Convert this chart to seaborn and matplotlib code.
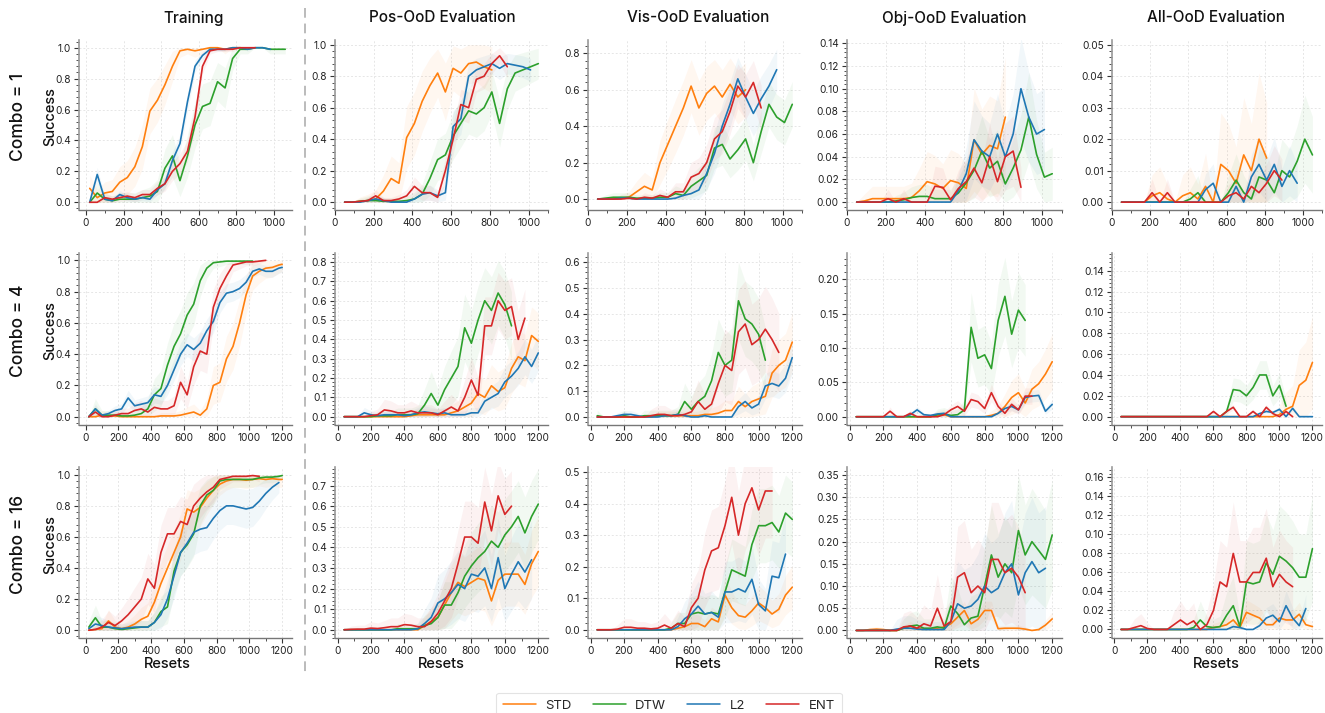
import numpy as np
import pandas as pd
import matplotlib
matplotlib.use("Agg")
import matplotlib.pyplot as plt
import seaborn as sns
from matplotlib.ticker import MultipleLocator, AutoMinorLocator, FormatStrFormatter
from matplotlib.lines import Line2D

N = None
METHODS = ["STD", "DTW", "L2", "ENT"]
COLORS = ["#ff7f0e", "#2ca02c", "#1f77b4", "#d62728"]
COLUMNS = ["Training", "Pos-OoD Evaluation", "Vis-OoD Evaluation", "Obj-OoD Evaluation", "All-OoD Evaluation"]
COMBOS = ["Combo = 1", "Combo = 4", "Combo = 16"]

# x grids (resets)
X_TRAIN_C1 = list(range(20, 1061, 40))
X_EVAL_C1 = list(range(50, 1051, 40))
X_TRAIN_C4 = list(range(20, 1181, 40)) + [1200]
X_EVAL_C4 = list(range(40, 1201, 40))
X_TRAIN_C16 = list(range(20, 1181, 40)) + [1200]
X_EVAL_C16 = list(range(40, 1201, 40))

# ---------------- Combo = 1 ----------------
TRAIN_C1_STD = [0.09,0.03,0.06,0.07,0.13,0.16,0.23,0.36,0.59,0.66,0.76,0.88,0.98,0.99,0.98,0.99,1.0,1.0,0.99,1.0,1.0,N,N,N,N,N,N]
TRAIN_C1_DTW = [0.0,0.06,0.02,0.01,0.02,0.02,0.02,0.03,0.04,0.07,0.22,0.30,0.14,0.30,0.50,0.62,0.64,0.78,0.74,0.93,0.99,0.99,1.0,1.0,0.99,0.99,0.99]
TRAIN_C1_L2 = [0.0,0.18,0.02,0.01,0.05,0.03,0.02,0.03,0.02,0.08,0.12,0.27,0.38,0.65,0.88,0.95,0.99,0.99,0.99,1.0,1.0,0.99,1.0,1.0,0.99,N,N]
TRAIN_C1_ENT = [0.0,0.0,0.03,0.02,0.03,0.04,0.03,0.05,0.05,0.09,0.12,0.20,0.25,0.33,0.55,0.88,0.98,0.99,0.99,0.99,1.0,1.0,1.0,N,N,N,N]

POS_C1_STD = [0.0,0.0,0.005,0.01,0.02,0.07,0.15,0.12,0.41,0.5,0.64,0.74,0.82,0.7,0.85,0.82,0.88,0.89,0.86,0.84,N,N,N,N,N,N]
POS_C1_DTW = [0.0,0.0,0.005,0.01,0.01,0.005,0.005,0.005,0.01,0.02,0.05,0.15,0.27,0.3,0.42,0.5,0.58,0.56,0.6,0.7,0.5,0.72,0.82,0.84,0.86,0.88]
POS_C1_L2 = [0.0,0.0,0.0,0.01,0.02,0.01,0.0,0.0,0.0,0.02,0.05,0.06,0.04,0.06,0.48,0.53,0.8,0.84,0.86,0.88,0.85,0.88,0.87,0.86,0.84,N]
POS_C1_ENT = [0.0,0.0,0.005,0.01,0.04,0.01,0.01,0.02,0.04,0.1,0.06,0.06,0.03,0.2,0.4,0.62,0.6,0.78,0.8,0.88,0.93,0.86,N,N,N,N]

VIS_C1_STD = [0.0,0.0,0.0,0.005,0.01,0.04,0.07,0.05,0.2,0.3,0.4,0.5,0.62,0.5,0.58,0.62,0.56,0.63,0.56,0.6,N,N,N,N,N,N]
VIS_C1_DTW = [0.0,0.005,0.01,0.01,0.01,0.005,0.005,0.005,0.01,0.01,0.03,0.02,0.07,0.1,0.13,0.28,0.3,0.22,0.27,0.33,0.2,0.37,0.52,0.45,0.42,0.52]
VIS_C1_L2 = [0.0,0.0,0.0,0.005,0.005,0.0,0.0,0.0,0.0,0.0,0.005,0.02,0.03,0.05,0.14,0.25,0.4,0.52,0.66,0.56,0.47,0.55,0.62,0.71,N,N]
VIS_C1_ENT = [0.0,0.0,0.0,0.0,0.005,0.0,0.01,0.005,0.02,0.01,0.04,0.04,0.12,0.14,0.2,0.33,0.37,0.48,0.62,0.56,0.64,0.5,N,N,N,N]

OBJ_C1_STD = [0.0,0.001,0.003,0.003,0.003,0.003,0.003,0.004,0.01,0.018,0.016,0.012,0.019,0.017,0.012,0.055,0.042,0.05,0.047,0.075,N,N,N,N,N,N]
OBJ_C1_DTW = [0.0,0.0,0.0,0.0,0.0,0.001,0.002,0.004,0.005,0.005,0.003,0.003,0.003,0.008,0.017,0.028,0.045,0.03,0.036,0.016,0.03,0.046,0.075,0.042,0.022,0.025]
OBJ_C1_L2 = [0.0,0.0,0.0,0.0,0.0,0.0,0.0,0.0,0.0,0.0,0.0,0.0,0.0,0.01,0.025,0.055,0.045,0.04,0.06,0.04,0.06,0.1,0.075,0.06,0.064,N]
OBJ_C1_ENT = [0.0,0.0,0.0,0.0,0.003,0.0,0.003,0.0,0.0,0.0,0.014,0.013,0.002,0.012,0.018,0.03,0.017,0.04,0.018,0.04,0.045,0.013,N,N,N,N]

ALL_C1_STD = [0.0,0.0,0.0,0.0,0.002,0.003,0.001,0.0,0.002,0.003,0.001,0.005,0.0,0.012,0.01,0.006,0.015,0.01,0.02,0.014,N,N,N,N,N,N]
ALL_C1_DTW = [0.0,0.0,0.0,0.0,0.0,0.0,0.0,0.0,0.0,0.001,0.003,0.0,0.0,0.0,0.003,0.007,0.003,0.001,0.008,0.007,0.003,0.01,0.008,0.013,0.02,0.015]
ALL_C1_L2 = [0.0,0.0,0.0,0.0,0.0,0.0,0.0,0.0,0.0,0.0,0.0,0.004,0.006,0.0,0.0,0.005,0.0,0.008,0.012,0.007,0.012,0.005,0.01,0.006,N,N]
ALL_C1_ENT = [0.0,0.0,0.0,0.0,0.003,0.0,0.003,0.0,0.0,0.0,0.0,0.0,0.0,0.0,0.002,0.003,0.001,0.005,0.003,0.006,0.01,0.007,N,N,N,N]

# ---------------- Combo = 4 ----------------
TRAIN_C4_STD = [0.0,0.0,0.01,0.005,0.005,0.0,0.0,0.0,0.0,0.0,0.0,0.005,0.005,0.005,0.01,0.02,0.03,0.01,0.05,0.2,0.22,0.37,0.45,0.6,0.78,0.9,0.93,0.95,0.955,0.97,0.975]
TRAIN_C4_DTW = [0.0,0.05,0.01,0.01,0.01,0.005,0.005,0.01,0.02,0.05,0.14,0.18,0.33,0.45,0.53,0.65,0.72,0.87,0.95,0.985,0.99,0.995,0.995,0.995,0.995,0.995,N,N,N,N,N]
TRAIN_C4_L2 = [0.0,0.05,0.01,0.02,0.04,0.05,0.12,0.07,0.08,0.09,0.14,0.13,0.2,0.3,0.4,0.46,0.43,0.47,0.55,0.61,0.73,0.79,0.8,0.82,0.86,0.93,0.945,0.93,0.93,0.95,0.955]
TRAIN_C4_ENT = [0.0,0.03,0.0,0.0,0.01,0.02,0.02,0.04,0.05,0.03,0.06,0.05,0.05,0.07,0.22,0.14,0.32,0.42,0.4,0.7,0.82,0.9,0.97,0.98,0.99,0.99,0.995,1.0,N,N,N]

POS_C4_STD = [0.0,0.0,0.0,0.0,0.0,0.0,0.0,0.0,0.0,0.0,0.005,0.01,0.01,0.01,0.01,0.01,0.02,0.03,0.05,0.07,0.12,0.1,0.16,0.13,0.15,0.25,0.31,0.29,0.42,0.39]
POS_C4_DTW = [0.0,0.0,0.0,0.0,0.0,0.005,0.005,0.005,0.01,0.01,0.01,0.015,0.06,0.12,0.06,0.14,0.2,0.26,0.46,0.38,0.5,0.6,0.55,0.64,0.58,0.47,N,N,N,N]
POS_C4_L2 = [0.0,0.0,0.0,0.02,0.01,0.005,0.01,0.01,0.01,0.005,0.01,0.02,0.025,0.02,0.015,0.02,0.01,0.01,0.01,0.02,0.02,0.08,0.1,0.12,0.18,0.21,0.25,0.31,0.26,0.33]
POS_C4_ENT = [0.0,0.0,0.0,0.0,0.005,0.01,0.035,0.03,0.02,0.02,0.03,0.02,0.02,0.02,0.01,0.03,0.05,0.03,0.1,0.19,0.11,0.47,0.47,0.6,0.55,0.57,0.4,0.51,N,N]

VIS_C4_STD = [0.0,0.0,0.0,0.0,0.0,0.0,0.0,0.0,0.0,0.005,0.005,0.005,0.005,0.005,0.005,0.005,0.01,0.01,0.015,0.025,0.025,0.06,0.04,0.06,0.07,0.08,0.17,0.2,0.22,0.29]
VIS_C4_DTW = [0.005,0.0,0.0,0.0,0.005,0.0,0.0,0.005,0.005,0.005,0.005,0.005,0.01,0.06,0.03,0.06,0.08,0.14,0.25,0.2,0.22,0.45,0.38,0.36,0.32,0.22,N,N,N,N]
VIS_C4_L2 = [0.0,0.0,0.0,0.005,0.01,0.01,0.005,0.0,0.0,0.0,0.005,0.005,0.01,0.005,0.0,0.0,0.005,0.0,0.0,0.0,0.0,0.04,0.06,0.035,0.05,0.12,0.13,0.12,0.15,0.23]
VIS_C4_ENT = [0.0,0.0,0.0,0.0,0.0,0.0,0.0,0.0,0.005,0.01,0.01,0.005,0.005,0.01,0.02,0.06,0.03,0.05,0.13,0.2,0.18,0.33,0.36,0.28,0.3,0.34,0.3,0.25,N,N]

OBJ_C4_STD = [0.0,0.0,0.0,0.0,0.0,0.0,0.0,0.0,0.0,0.0,0.0,0.0,0.002,0.003,0.0,0.0,0.0,0.0,0.0,0.0,0.002,0.005,0.015,0.028,0.035,0.02,0.04,0.048,0.062,0.08]
OBJ_C4_DTW = [0.0,0.0,0.0,0.0,0.0,0.0,0.0,0.0,0.0,0.0,0.0,0.0,0.003,0.004,0.002,0.003,0.01,0.13,0.085,0.09,0.07,0.14,0.175,0.12,0.155,0.14,N,N,N,N]
OBJ_C4_L2 = [0.0,0.0,0.0,0.0,0.0,0.0,0.0,0.0,0.003,0.01,0.003,0.002,0.004,0.005,0.0,0.0,0.0,0.0,0.0,0.0,0.0,0.005,0.012,0.015,0.01,0.028,0.03,0.031,0.008,0.018]
OBJ_C4_ENT = [0.0,0.0,0.0,0.0,0.0,0.008,0.0,0.0,0.005,0.0,0.0,0.0,0.0,0.003,0.01,0.015,0.008,0.025,0.022,0.012,0.035,0.015,0.005,0.018,0.01,0.03,0.03,N,N,N]

ALL_C4_STD = [0.0,0.0,0.0,0.0,0.0,0.0,0.0,0.0,0.0,0.0,0.0,0.0,0.0,0.0,0.0,0.0,0.0,0.0,0.0,0.0,0.0,0.0,0.0,0.0,0.002,0.007,0.01,0.03,0.035,0.052]
ALL_C4_DTW = [0.0,0.0,0.0,0.0,0.0,0.0,0.0,0.0,0.0,0.0,0.0,0.0,0.0,0.0,0.0,0.0,0.005,0.026,0.025,0.02,0.028,0.04,0.04,0.02,0.03,0.01,N,N,N,N]
ALL_C4_L2 = [0.0,0.0,0.0,0.0,0.0,0.0,0.0,0.0,0.0,0.0,0.0,0.0,0.0,0.0,0.0,0.0,0.0,0.0,0.0,0.0,0.0,0.003,0.005,0.004,0.007,0.0,0.008,0.0,0.0,0.0]
ALL_C4_ENT = [0.0,0.0,0.0,0.0,0.0,0.0,0.0,0.0,0.0,0.0,0.0,0.0,0.0,0.0,0.005,0.0,0.005,0.009,0.0,0.0,0.005,0.0,0.009,0.003,0.0,0.005,0.0,N,N,N]

# ---------------- Combo = 16 ----------------
TRAIN_C16_STD = [0.0,0.005,0.01,0.06,0.02,0.01,0.02,0.04,0.07,0.09,0.18,0.3,0.4,0.5,0.6,0.78,0.76,0.79,0.85,0.9,0.94,0.96,0.97,0.97,0.965,0.97,0.975,0.97,0.975,0.97,0.97]
TRAIN_C16_DTW = [0.02,0.08,0.02,0.02,0.01,0.005,0.01,0.015,0.02,0.02,0.05,0.12,0.15,0.38,0.5,0.55,0.62,0.8,0.87,0.9,0.96,0.97,0.97,0.97,0.97,0.97,0.98,0.985,0.985,0.99,0.995]
TRAIN_C16_L2 = [0.01,0.04,0.03,0.02,0.015,0.01,0.015,0.02,0.02,0.02,0.05,0.1,0.2,0.35,0.5,0.56,0.63,0.65,0.66,0.72,0.77,0.8,0.8,0.79,0.78,0.79,0.83,0.88,0.92,0.95,N]
TRAIN_C16_ENT = [0.0,0.005,0.02,0.05,0.03,0.06,0.1,0.15,0.2,0.33,0.27,0.5,0.62,0.62,0.7,0.68,0.8,0.85,0.89,0.92,0.97,0.98,0.99,0.99,0.99,0.995,0.99,N,N,N,N]

POS_C16_STD = [0.0,0.0,0.0,0.0,0.0,0.0,0.0,0.0,0.0,0.0,0.0,0.0,0.02,0.04,0.06,0.12,0.18,0.23,0.21,0.23,0.25,0.24,0.14,0.24,0.27,0.27,0.27,0.22,0.32,0.38]
POS_C16_DTW = [0.0,0.0,0.0,0.0,0.0,0.0,0.0,0.0,0.005,0.005,0.005,0.005,0.02,0.03,0.06,0.12,0.12,0.18,0.26,0.31,0.35,0.38,0.43,0.4,0.46,0.5,0.55,0.47,0.55,0.61]
POS_C16_L2 = [0.0,0.0,0.0,0.0,0.0,0.0,0.0,0.0,0.0,0.0,0.0,0.005,0.03,0.06,0.13,0.15,0.18,0.22,0.2,0.27,0.26,0.3,0.2,0.35,0.2,0.27,0.33,0.28,0.34,N]
POS_C16_ENT = [0.0,0.002,0.003,0.003,0.008,0.006,0.01,0.015,0.015,0.025,0.022,0.015,0.015,0.04,0.08,0.14,0.2,0.32,0.45,0.45,0.42,0.62,0.48,0.65,0.56,0.6,N,N,N,N]

VIS_C16_STD = [0.0,0.0,0.0,0.0,0.0,0.0,0.0,0.0,0.0,0.0,0.0,0.0,0.005,0.01,0.02,0.02,0.01,0.035,0.025,0.11,0.07,0.045,0.04,0.06,0.085,0.07,0.05,0.065,0.11,0.135]
VIS_C16_DTW = [0.0,0.0,0.0,0.0,0.0,0.0,0.0,0.0,0.0,0.0,0.0,0.005,0.02,0.02,0.05,0.055,0.05,0.055,0.05,0.12,0.19,0.18,0.17,0.27,0.33,0.33,0.34,0.31,0.37,0.35]
VIS_C16_L2 = [0.0,0.0,0.0,0.0,0.0,0.0,0.0,0.0,0.0,0.0,0.0,0.0,0.01,0.035,0.05,0.075,0.05,0.055,0.04,0.12,0.12,0.13,0.12,0.16,0.08,0.06,0.17,0.165,0.24,N]
VIS_C16_ENT = [0.0,0.0,0.0,0.002,0.008,0.008,0.005,0.005,0.003,0.005,0.015,0.005,0.02,0.01,0.07,0.1,0.19,0.25,0.26,0.33,0.42,0.3,0.4,0.45,0.38,0.44,0.44,N,N,N]

OBJ_C16_STD = [0.0,0.0,0.002,0.003,0.002,0.0,0.0,0.005,0.01,0.005,0.004,0.003,0.005,0.008,0.015,0.03,0.045,0.015,0.025,0.045,0.045,0.004,0.005,0.005,0.005,0.003,0.0,0.002,0.012,0.026]
OBJ_C16_DTW = [0.0,0.0,0.0,0.0,0.0,0.0,0.0,0.005,0.01,0.012,0.005,0.005,0.008,0.005,0.055,0.038,0.013,0.028,0.032,0.1,0.17,0.12,0.15,0.13,0.225,0.17,0.2,0.18,0.16,0.215]
OBJ_C16_L2 = [0.0,0.0,0.0,0.0,0.0,0.0,0.003,0.005,0.005,0.003,0.002,0.002,0.002,0.002,0.02,0.06,0.05,0.055,0.07,0.1,0.085,0.095,0.13,0.15,0.08,0.13,0.155,0.13,0.14,N]
OBJ_C16_ENT = [0.0,0.0,0.0,0.0,0.0,0.0,0.0,0.008,0.01,0.005,0.015,0.01,0.05,0.01,0.02,0.12,0.13,0.085,0.1,0.085,0.16,0.16,0.13,0.14,0.12,0.085,N,N,N,N]

ALL_C16_STD = [0.0,0.0,0.0,0.0,0.0,0.0,0.0,0.0,0.0,0.0,0.0,0.0,0.0,0.0,0.002,0.003,0.005,0.01,0.002,0.018,0.015,0.012,0.005,0.005,0.012,0.01,0.01,0.016,0.005,0.003]
ALL_C16_DTW = [0.0,0.0,0.0,0.0,0.0,0.0,0.0,0.0,0.0,0.0,0.0,0.002,0.01,0.003,0.002,0.003,0.015,0.025,0.003,0.05,0.048,0.05,0.07,0.058,0.077,0.072,0.065,0.055,0.055,0.085]
ALL_C16_L2 = [0.0,0.0,0.0,0.0,0.0,0.0,0.0,0.0,0.0,0.0,0.0,0.0,0.0,0.0,0.0,0.0,0.0,0.003,0.002,0.0,0.0,0.004,0.012,0.015,0.008,0.025,0.012,0.004,0.022,N]
ALL_C16_ENT = [0.0,0.0,0.002,0.004,0.001,0.0,0.0,0.0,0.005,0.01,0.005,0.009,0.0,0.005,0.02,0.05,0.045,0.08,0.05,0.05,0.06,0.06,0.075,0.045,0.058,0.05,0.045,N,N,N]

# shaded-band spread factors per panel (STD, DTW, L2, ENT)
BAND_C1 = [[0.30, 0.30, 0.12, 0.15], [0.40, 0.30, 0.20, 0.20], [0.30, 0.25, 0.25, 0.25], [0.20, 0.15, 0.15, 0.15], [0.15, 0.10, 0.08, 0.08]]
BAND_C4 = [[0.30, 0.30, 0.15, 0.25], [0.30, 0.35, 0.20, 0.30], [0.25, 0.30, 0.15, 0.35], [0.15, 0.15, 0.05, 0.07], [0.20, 0.07, 0.03, 0.03]]
BAND_C16 = [[0.30, 0.30, 0.30, 0.35], [0.35, 0.35, 0.40, 0.35], [0.20, 0.25, 0.30, 0.30], [0.10, 0.30, 0.40, 0.35], [0.10, 0.20, 0.10, 0.20]]

# ---------------- assemble ----------------
PANELS = [
    [(X_TRAIN_C1, [TRAIN_C1_STD, TRAIN_C1_DTW, TRAIN_C1_L2, TRAIN_C1_ENT]),
     (X_EVAL_C1, [POS_C1_STD, POS_C1_DTW, POS_C1_L2, POS_C1_ENT]),
     (X_EVAL_C1, [VIS_C1_STD, VIS_C1_DTW, VIS_C1_L2, VIS_C1_ENT]),
     (X_EVAL_C1, [OBJ_C1_STD, OBJ_C1_DTW, OBJ_C1_L2, OBJ_C1_ENT]),
     (X_EVAL_C1, [ALL_C1_STD, ALL_C1_DTW, ALL_C1_L2, ALL_C1_ENT])],
    [(X_TRAIN_C4, [TRAIN_C4_STD, TRAIN_C4_DTW, TRAIN_C4_L2, TRAIN_C4_ENT]),
     (X_EVAL_C4, [POS_C4_STD, POS_C4_DTW, POS_C4_L2, POS_C4_ENT]),
     (X_EVAL_C4, [VIS_C4_STD, VIS_C4_DTW, VIS_C4_L2, VIS_C4_ENT]),
     (X_EVAL_C4, [OBJ_C4_STD, OBJ_C4_DTW, OBJ_C4_L2, OBJ_C4_ENT]),
     (X_EVAL_C4, [ALL_C4_STD, ALL_C4_DTW, ALL_C4_L2, ALL_C4_ENT])],
    [(X_TRAIN_C16, [TRAIN_C16_STD, TRAIN_C16_DTW, TRAIN_C16_L2, TRAIN_C16_ENT]),
     (X_EVAL_C16, [POS_C16_STD, POS_C16_DTW, POS_C16_L2, POS_C16_ENT]),
     (X_EVAL_C16, [VIS_C16_STD, VIS_C16_DTW, VIS_C16_L2, VIS_C16_ENT]),
     (X_EVAL_C16, [OBJ_C16_STD, OBJ_C16_DTW, OBJ_C16_L2, OBJ_C16_ENT]),
     (X_EVAL_C16, [ALL_C16_STD, ALL_C16_DTW, ALL_C16_L2, ALL_C16_ENT])],
]
BANDS = [BAND_C1, BAND_C4, BAND_C16]

# ---------------- layout / style ----------------
sns.set_style("ticks")
plt.rcParams["font.family"] = ["Inter", "DejaVu Sans"]

W, H = 1325, 713
fig = plt.figure(figsize=(W / 100, H / 100), dpi=100)

COL_X = [(79, 292), (335, 548), (588, 802), (847, 1062), (1112, 1322)]
ROW_Y = [(40, 210), (253, 425), (467, 638)]
XLIMS = [[(-37, 1096), (0, 1100)], [(-40, 1260), (-15, 1258)], [(-40, 1260), (-15, 1258)]]
YLIMS = [
    [(-0.05, 1.05), (-0.05, 1.03), (-0.06, 0.873), (-0.007, 0.143), (-0.0025, 0.0515)],
    [(-0.053, 1.047), (-0.043, 0.847), (-0.031, 0.635), (-0.012, 0.238), (-0.008, 0.157)],
    [(-0.05, 1.05), (-0.04, 0.79), (-0.026, 0.516), (-0.017, 0.368), (-0.009, 0.171)],
]
YSTEP = [[0.2, 0.2, 0.2, 0.02, 0.01], [0.2, 0.1, 0.1, 0.05, 0.02], [0.2, 0.1, 0.1, 0.05, 0.02]]


def rect(l, t, r, b):
    return [l / W, 1 - b / H, (r - l) / W, (b - t) / H]


for ri in range(3):
    for ci in range(5):
        xs, series = PANELS[ri][ci]
        for s in series:
            assert len(s) == len(xs), (ri, ci, len(s), len(xs))
        ax = fig.add_axes(rect(COL_X[ci][0], ROW_Y[ri][0], COL_X[ci][1], ROW_Y[ri][1]))
        ax.set_axisbelow(True)
        ax.grid(True, which="major", color="#e6e6e6", lw=0.7, ls=(0, (2, 2)))

        frames = []
        for m, vals in zip(METHODS, series):
            frames.append(pd.DataFrame({"Resets": xs, "Success": [np.nan if v is None else v for v in vals], "Method": m}))
        df = pd.concat(frames, ignore_index=True)

        # shaded bands
        for k, (m, c) in enumerate(zip(METHODS, COLORS)):
            sub = df[df["Method"] == m]
            v = sub["Success"].to_numpy(dtype=float)
            x = sub["Resets"].to_numpy(dtype=float)
            spread = BANDS[ri][ci][k] * np.sqrt(np.clip(v * (1 - v), 0, None))
            ax.fill_between(x, np.clip(v - spread, 0, None), np.clip(v + spread, None, 1.0),
                            color=c, alpha=0.06, lw=0)

        sns.lineplot(data=df, x="Resets", y="Success", hue="Method", hue_order=METHODS,
                     palette=COLORS, ax=ax, legend=False, linewidth=1.2, errorbar=None)

        xl = XLIMS[ri][0 if ci == 0 else 1]
        ax.set_xlim(*xl)
        ax.set_ylim(*YLIMS[ri][ci])
        ax.xaxis.set_major_locator(MultipleLocator(200))
        ax.xaxis.set_minor_locator(AutoMinorLocator(2))
        ax.yaxis.set_major_locator(MultipleLocator(YSTEP[ri][ci]))
        ax.yaxis.set_minor_locator(AutoMinorLocator(5))
        ax.yaxis.set_major_formatter(FormatStrFormatter("%.1f" if YSTEP[ri][ci] >= 0.1 else "%.2f"))
        ax.set_xlabel("")
        ax.set_ylabel("")
        for side in ("top", "right"):
            ax.spines[side].set_visible(False)
        ax.spines["left"].set_color("#9a9a9a")
        ax.spines["left"].set_linewidth(1.2)
        ax.spines["bottom"].set_color("#777777")
        ax.spines["bottom"].set_linewidth(1.0)
        ax.tick_params(which="major", length=3.5, width=0.8, color="#333333", labelsize=7.3,
                       labelcolor="#222222", pad=2.5)
        ax.tick_params(which="minor", length=2, width=0.6, color="#333333")

# column titles
TITLE_X = [194, 442, 698, 954, 1216]
for cx, t in zip(TITLE_X, COLUMNS):
    fig.text(cx / W, 1 - 18 / H, t, ha="center", va="center", fontsize=11, fontweight="medium", color="#111111")

# row labels and y labels
for ri, lab in enumerate(COMBOS):
    cy = (ROW_Y[ri][0] + ROW_Y[ri][1]) / 2 - 8
    fig.text(19 / W, 1 - cy / H, lab, rotation=90, ha="center", va="center", fontsize=12.5,
             fontweight="medium", color="#111111")
    fig.text(50 / W, 1 - cy / H, "Success", rotation=90, ha="center", va="center", fontsize=10.5,
             fontweight="medium", color="#111111")

# x labels
RES_X = [167, 441, 698, 957, 1216]
for cx in RES_X:
    fig.text(cx / W, 1 - 664 / H, "Resets", ha="center", va="center", fontsize=10.5,
             fontweight="medium", color="#111111")

# dashed divider
fig.add_artist(Line2D([305 / W, 305 / W], [1 - 8 / H, 1 - 675 / H], transform=fig.transFigure,
                      color="#bbbbbb", lw=1.4, ls=(0, (5, 3))))

# legend
handles = [Line2D([0], [0], color=c, lw=1.1) for c in COLORS]
leg = fig.legend(handles, METHODS, loc="upper center", bbox_to_anchor=(669 / W, 1 - 686 / H), ncol=4,
                 frameon=True, fontsize=9.5, handlelength=2.5, handletextpad=0.7, columnspacing=1.6,
                 borderpad=0.55, fancybox=True)
leg.get_frame().set_edgecolor("#dddddd")
leg.get_frame().set_linewidth(0.8)

fig.savefig("out.png", dpi=100)
